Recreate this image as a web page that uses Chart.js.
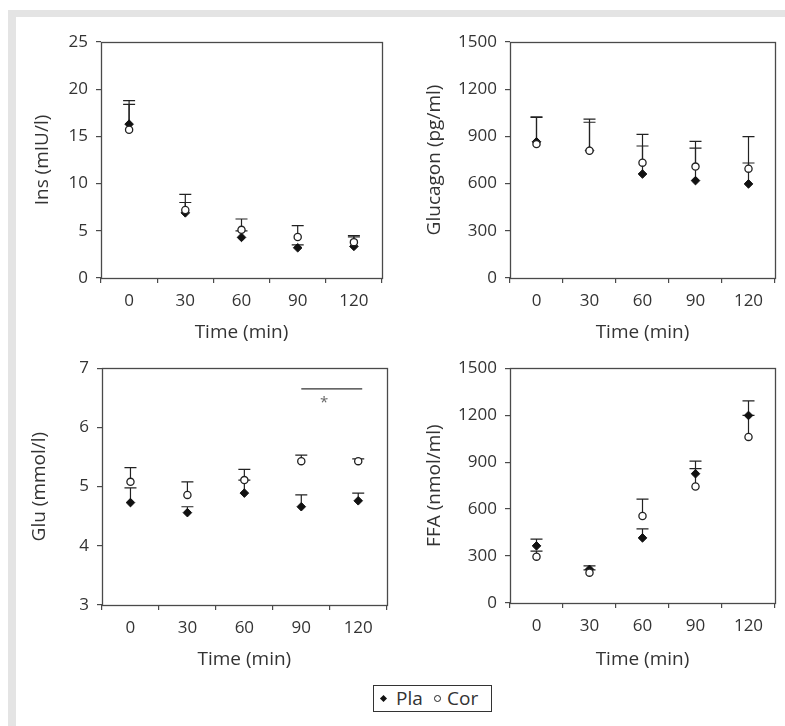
<!DOCTYPE html>
<html><head><meta charset="utf-8">
<script src="https://cdn.jsdelivr.net/npm/chart.js@4"></script>
<style>
html,body{margin:0;padding:0;background:#fff;}
body{width:785px;height:726px;position:relative;overflow:hidden;font-family:"Open Sans",sans-serif;}
#frame{position:absolute;left:8px;top:10px;width:800px;height:760px;border-left:8px solid #e4e4e4;border-top:7px solid #e4e4e4;}
canvas{position:absolute;}
#legend{position:absolute;left:373px;top:685px;width:117px;height:25px;border:1px solid #333;background:#fff;color:#333;font-size:19px;line-height:25px;white-space:nowrap;}
#legend .it{position:absolute;top:0;}
.dia{position:absolute;width:5px;height:5px;background:#111;transform:rotate(45deg);}
.cir{position:absolute;width:5px;height:5px;border:1.3px solid #222;border-radius:50%;background:#fff;}
</style></head><body>
<div id="frame"></div>
<canvas id="c1" width="392" height="350" style="left:0;top:0"></canvas>
<canvas id="c2" width="393" height="350" style="left:392px;top:0"></canvas>
<canvas id="c3" width="392" height="327" style="left:0;top:350px"></canvas>
<canvas id="c4" width="393" height="327" style="left:392px;top:350px"></canvas>
<div id="legend">
  <span class="dia" style="left:7px;top:10px"></span><span class="it" style="left:22px">Pla</span>
  <span class="cir" style="left:60px;top:9px"></span><span class="it" style="left:73px">Cor</span>
</div>
<script>
// ---- data ----
const timeLabels = ['0', '30', '60', '90', '120'];
const seriesNames = ['Pla', 'Cor'];

const insPla = [16.3, 6.9, 4.3, 3.2, 3.35];
const insPlaErr = [2.1, 1.1, 0.7, 0.3, 1.0];
const insCor = [15.7, 7.2, 5.1, 4.35, 3.8];
const insCorErr = [3.1, 1.65, 1.15, 1.2, 0.7];
const insTicks = [0, 5, 10, 15, 20, 25];

const glcPla = [866, 810, 661, 619, 598];
const glcPlaErr = [159, 200, 178, 207, 133];
const glcCor = [851, 809, 733, 708, 695];
const glcCorErr = [169, 181, 180, 160, 203];
const glcTicks = [0, 300, 600, 900, 1200, 1500];

const gluPla = [4.73, 4.56, 4.89, 4.66, 4.76];
const gluPlaErr = [0.25, 0.10, 0.22, 0.20, 0.13];
const gluCor = [5.08, 4.86, 5.11, 5.43, 5.43];
const gluCorErr = [0.24, 0.22, 0.18, 0.10, 0.04];
const gluTicks = [3, 4, 5, 6, 7];

const ffaPla = [365, 215, 416, 826, 1198];
const ffaPlaErr = [43, 22, 57, 80, 93];
const ffaCor = [296, 194, 556, 744, 1061];
const ffaCorErr = [36, 17, 107, 114, 137];
const ffaTicks = [0, 300, 600, 900, 1200, 1500];

// significance bracket in Glu panel: from index, to index, level; star position
const sigBracket = [3.0, 4.07, 6.65];
const sigStar = [3.4, 6.41];

// ---- drawing ----
const FONT = '"Open Sans", sans-serif';
const TXT = '#333';
const AX = '#4a4a4a';

const errorBars = {
  id: 'errorBars',
  beforeDatasetsDraw(chart) {
    const ctx = chart.ctx, ys = chart.scales.y;
    ctx.save();
    ctx.strokeStyle = '#222';
    ctx.lineWidth = 1.2;
    chart.data.datasets.forEach((ds, i) => {
      const meta = chart.getDatasetMeta(i);
      meta.data.forEach((pt, j) => {
        const top = ys.getPixelForValue(ds.data[j] + ds.errors[j]);
        ctx.beginPath();
        ctx.moveTo(pt.x, pt.y);
        ctx.lineTo(pt.x, top);
        ctx.moveTo(pt.x - 6, top);
        ctx.lineTo(pt.x + 6, top);
        ctx.stroke();
      });
    });
    ctx.restore();
  }
};

const frameBox = {
  id: 'frameBox',
  afterDraw(chart) {
    const a = chart.chartArea, ctx = chart.ctx;
    ctx.save();
    ctx.strokeStyle = AX;
    ctx.lineWidth = 1.3;
    ctx.strokeRect(Math.round(a.left) + 0.5, Math.round(a.top) + 0.5, Math.round(a.right - a.left), Math.round(a.bottom - a.top));
    ctx.restore();
  }
};

const sigPlugin = {
  id: 'sig',
  afterDatasetsDraw(chart) {
    const xs = chart.scales.x, ys = chart.scales.y, ctx = chart.ctx;
    ctx.save();
    ctx.strokeStyle = '#333';
    ctx.lineWidth = 1.2;
    const yy = ys.getPixelForValue(sigBracket[2]);
    ctx.beginPath();
    ctx.moveTo(xs.getPixelForValue(sigBracket[0]), yy);
    ctx.lineTo(xs.getPixelForValue(sigBracket[1]), yy);
    ctx.stroke();
    ctx.fillStyle = '#666';
    ctx.font = '15px ' + FONT;
    ctx.textAlign = 'center';
    ctx.textBaseline = 'middle';
    ctx.fillText('*', xs.getPixelForValue(sigStar[0]), ys.getPixelForValue(sigStar[1]));
    ctx.restore();
  }
};

function makePanel(id, box, area, yTitle, ticks, pla, plaErr, cor, corErr, yTitlePad, extraPlugins) {
  const yWidth = area.l - box.left;
  const xHeight = box.top + box.h - area.b;
  return new Chart(document.getElementById(id), {
    type: 'line',
    data: {
      labels: timeLabels,
      datasets: [
        { label: seriesNames[1], data: cor, errors: corErr, showLine: false,
          pointStyle: 'circle', pointRadius: 3.6, pointHoverRadius: 3.6,
          pointBackgroundColor: '#fff', pointBorderColor: '#222', pointBorderWidth: 1.3 },
        { label: seriesNames[0], data: pla, errors: plaErr, showLine: false,
          pointStyle: 'rectRot', pointRadius: 4.3, pointHoverRadius: 4.3,
          pointBackgroundColor: '#111', pointBorderColor: '#111', pointBorderWidth: 1 }
      ]
    },
    options: {
      responsive: false,
      animation: false,
      events: [],
      layout: { padding: { left: 0, bottom: 0, top: area.t - box.top, right: box.left + box.w - area.r } },
      plugins: { legend: { display: false }, tooltip: { enabled: false } },
      scales: {
        x: {
          type: 'category',
          offset: true,
          grid: { offset: true, drawOnChartArea: false, drawTicks: true, tickLength: 5, color: AX, lineWidth: 1.2 },
          border: { display: false },
          ticks: { color: TXT, font: { family: FONT, size: 17 }, padding: 8, maxRotation: 0 },
          title: { display: true, text: 'Time (min)', color: TXT, font: { family: FONT, size: 19 }, padding: { top: 0, bottom: 6 } },
          afterFit(s) { s.height = xHeight; }
        },
        y: {
          min: ticks[0], max: ticks[ticks.length - 1],
          afterBuildTicks(s) { s.ticks = ticks.map(v => ({ value: v })); },
          grid: { drawOnChartArea: false, drawTicks: true, tickLength: 5, color: AX, lineWidth: 1.2 },
          border: { display: false },
          ticks: { color: TXT, font: { family: FONT, size: 17 }, padding: 8, callback: v => String(v) },
          title: { display: true, text: yTitle, color: TXT, font: { family: FONT, size: 19 }, padding: { top: yTitlePad, bottom: 0 } },
          afterFit(s) { s.width = yWidth; }
        }
      }
    },
    plugins: [errorBars, frameBox].concat(extraPlugins || [])
  });
}

makePanel('c1', { left: 0, top: 0, w: 392, h: 350 }, { l: 101, t: 42, r: 382, b: 278 },
  'Ins (mIU/l)', insTicks, insPla, insPlaErr, insCor, insCorErr, 31);
makePanel('c2', { left: 392, top: 0, w: 393, h: 350 }, { l: 510, t: 42, r: 775, b: 278 },
  'Glucagon (pg/ml)', glcTicks, glcPla, glcPlaErr, glcCor, glcCorErr, 31);
makePanel('c3', { left: 0, top: 350, w: 392, h: 327 }, { l: 102, t: 367, r: 388, b: 605 },
  'Glu (mmol/l)', gluTicks, gluPla, gluPlaErr, gluCor, gluCorErr, 28, [sigPlugin]);
makePanel('c4', { left: 392, top: 350, w: 393, h: 327 }, { l: 510, t: 367, r: 775, b: 603 },
  'FFA (nmol/ml)', ffaTicks, ffaPla, ffaPlaErr, ffaCor, ffaCorErr, 31);
</script>
</body></html>
